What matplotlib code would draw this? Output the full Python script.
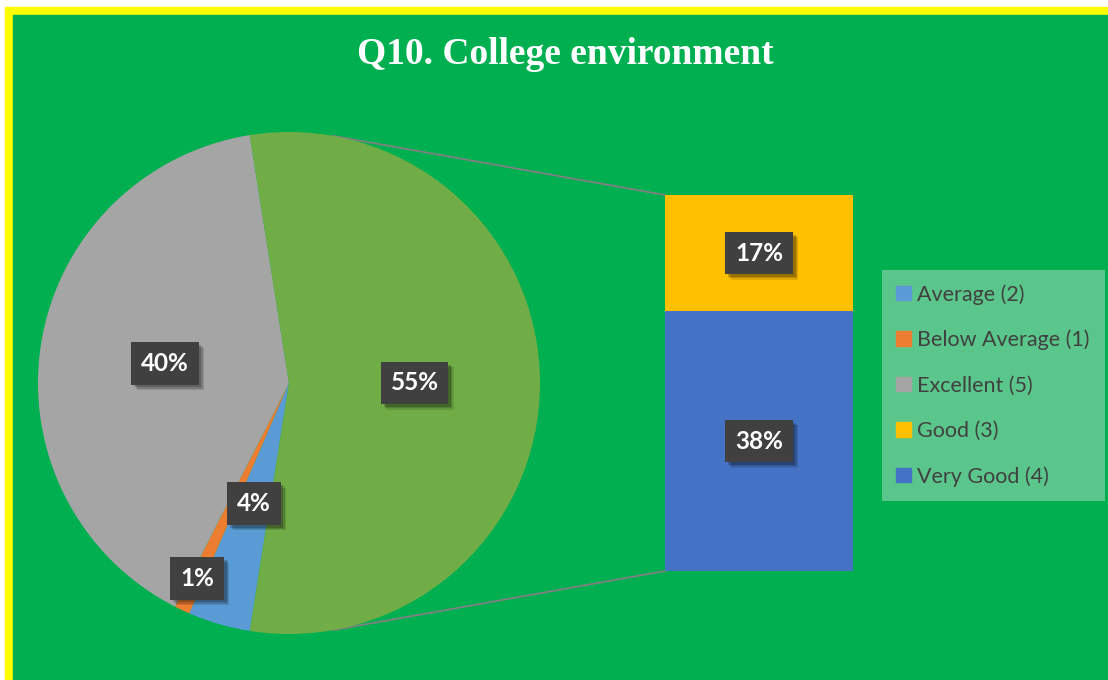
import matplotlib.pyplot as plt
from matplotlib.patches import Rectangle, Patch
import matplotlib.patheffects as pe
import numpy as np

title = 'Q10. College environment'

# pie part
pie_labels = ['Average (2)', 'Below Average (1)', 'Excellent (5)']
pie_values = [4, 1, 40]
pie_colors = ['#5B9BD5', '#ED7D31', '#A5A5A5']

# the "other" slice, split into the bar
bar_labels = ['Very Good (4)', 'Good (3)']
bar_values = [38, 17]
bar_colors = ['#4472C4', '#FFC000']
other_color = '#70AD47'

bg = '#00B050'
W, H = 1108, 680

fig = plt.figure(figsize=(W / 100, H / 100), dpi=100)
fig.patch.set_facecolor('white')
ax = fig.add_axes([0, 0, 1, 1])

# pie (center/radius in pixel units of the full-figure axes)
cx, cy, r = 289, 297, 251
total = sum(pie_values) + sum(bar_values)
wedges, _ = ax.pie(pie_values + [sum(bar_values)],
                   colors=pie_colors + [other_color],
                   startangle=261, counterclock=False,
                   center=(cx, cy), radius=r,
                   wedgeprops=dict(linewidth=0))
for w in wedges:
    w.set_zorder(3)

ax.set_xlim(0, W)
ax.set_ylim(0, H)
ax.set_aspect('equal')
ax.axis('off')

# yellow frame + green background
ax.add_patch(Rectangle((5, -5), W + 10, H - 2, color='#FFFF00', zorder=0))
ax.add_patch(Rectangle((13, -5), W + 10, H - 10, color=bg, zorder=0))


def tag(x, y, s):
    t = ax.text(x, y, s, ha='center', va='center', fontsize=17.5,
                fontweight='bold', family='Lato', color='white', zorder=6,
                bbox=dict(boxstyle='square,pad=0.4', fc='#404040', ec='none'))
    t.get_bbox_patch().set_path_effects([
        pe.SimplePatchShadow(offset=(4, -4), shadow_rgbFace='black', alpha=0.12),
        pe.SimplePatchShadow(offset=(3, -3), shadow_rgbFace='black', alpha=0.15),
        pe.SimplePatchShadow(offset=(2, -2), shadow_rgbFace='black', alpha=0.2),
        pe.Normal()])
    return t


# pie labels
dists = [0.5, 0.86, 0.5, 0.5]
vals = pie_values + [sum(bar_values)]
for w, v, d in zip(wedges, vals, dists):
    mid = np.deg2rad((w.theta1 + w.theta2) / 2)
    tag(cx + d * r * np.cos(mid), cy + d * r * np.sin(mid),
        f'{round(v / total * 100)}%')

# bar of the split slice
bx, bw, bbot, bh = 759, 188, 109, 376
heights = [v / sum(bar_values) * bh for v in bar_values]
bottom = bbot
for h, c, v in zip(heights, bar_colors, bar_values):
    ax.bar(bx, h, width=bw, bottom=bottom, color=c, linewidth=0, zorder=3)
    tag(bx, bottom + h / 2, f'{round(v / total * 100)}%')
    bottom += h

# connector lines
a = np.deg2rad(80)
ax.plot([cx + r * np.cos(a), bx - bw / 2], [cy + r * np.sin(a), bbot + bh],
        color='#808080', lw=1.3, zorder=2)
ax.plot([cx + r * np.cos(-a), bx - bw / 2], [cy + r * np.sin(-a), bbot],
        color='#808080', lw=1.3, zorder=2)

# legend
handles = [Patch(color=c) for c in pie_colors + bar_colors[::-1]]
labels = pie_labels + bar_labels[::-1]
leg = fig.legend(handles, labels, loc='upper left',
                 bbox_to_anchor=(882 / W, 1 - 270 / H, 223 / W, 0),
                 mode='expand', borderaxespad=0, borderpad=0.65,
                 labelspacing=1.17, handlelength=0.68, handleheight=0.68,
                 handletextpad=0.3, fancybox=False, framealpha=1,
                 prop=dict(family='Lato', size=15.5))
leg.get_frame().set_facecolor('#5BC68B')
leg.get_frame().set_edgecolor('none')
for t in leg.get_texts():
    t.set_color('#404040')

fig.text(565 / W, 1 - 54 / H, title, ha='center', va='center', fontsize=27,
         fontweight='bold', family='Liberation Serif', color='white')

fig.savefig('out.png', dpi=100, facecolor=fig.get_facecolor())
